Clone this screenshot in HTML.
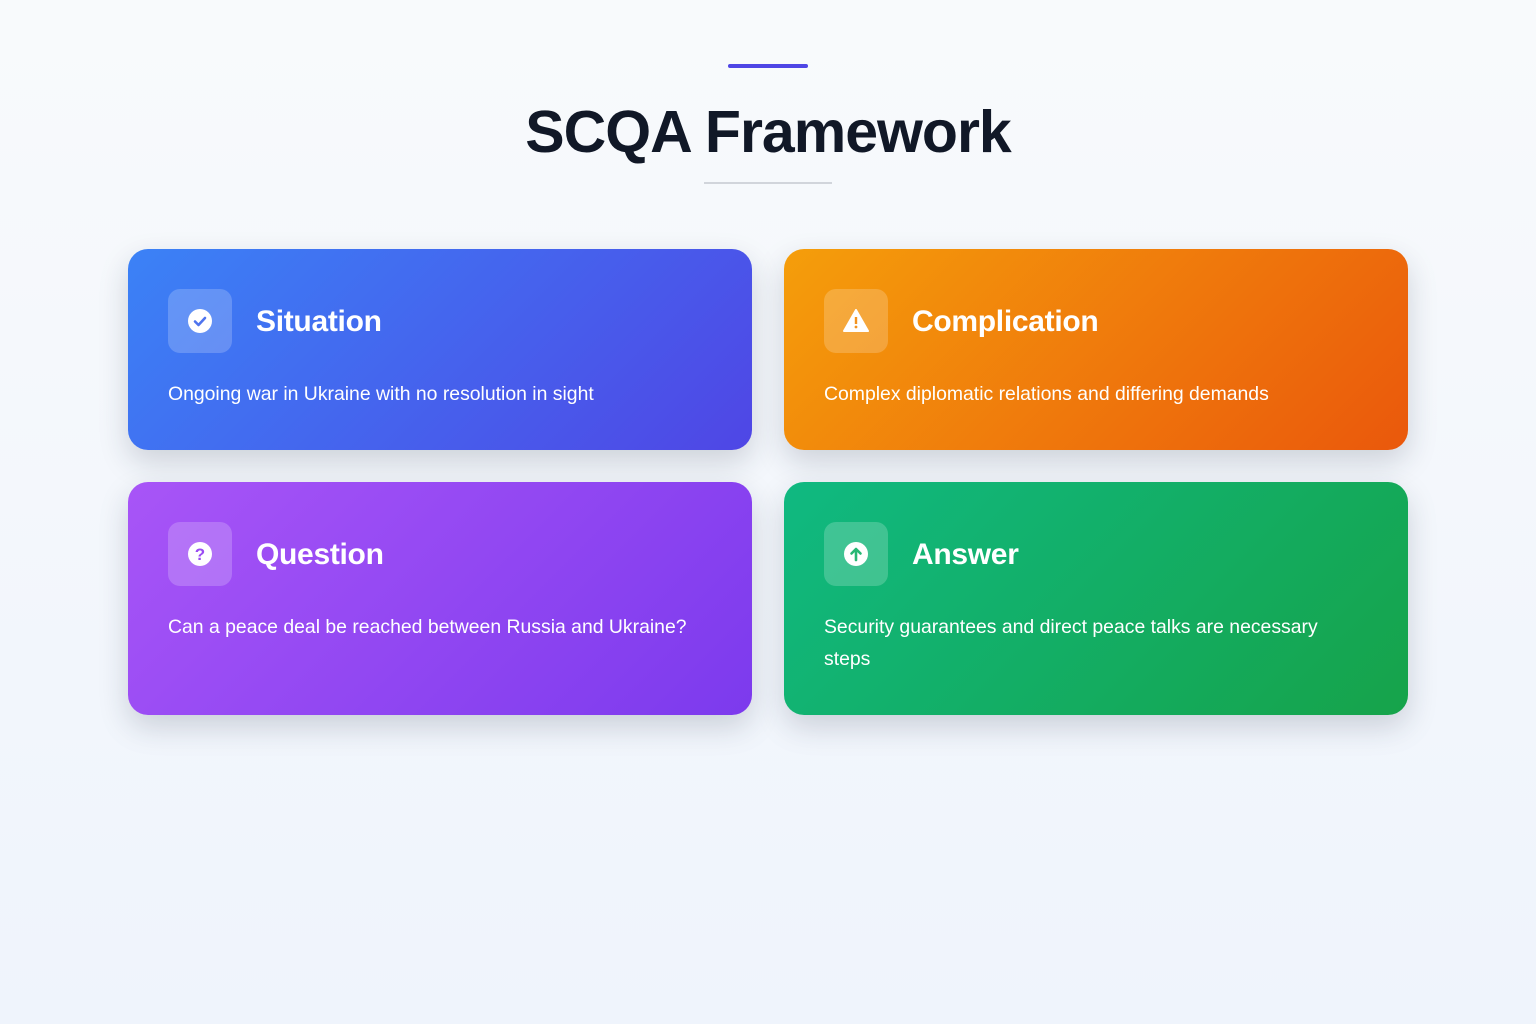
<!DOCTYPE html>
<html><head><meta charset="utf-8"><style>
*{margin:0;padding:0;box-sizing:border-box}
body{width:1536px;height:1024px;background:linear-gradient(180deg,#f8fafc,#eff4fc);font-family:"Liberation Sans",sans-serif;position:relative;overflow:hidden}
.topbar{position:absolute;left:728px;top:64px;width:80px;height:4px;background:#4f46e5;border-radius:2px}
h1{position:absolute;left:0;right:0;top:97px;text-align:center;font-size:59px;font-weight:bold;color:#111827;letter-spacing:-1px;line-height:70px}
.ul{position:absolute;left:704px;top:182px;width:128px;height:2px;background:#d1d5db}
.card{position:absolute;width:624px;border-radius:20px;box-shadow:0 12px 30px rgba(30,41,59,.18);color:#fff}
.ic{position:absolute;left:40px;top:40px;width:64px;height:64px;border-radius:12px;background:rgba(255,255,255,.2);display:flex;align-items:center;justify-content:center}
.h{position:absolute;left:128px;top:53px;font-size:30px;font-weight:bold;line-height:40px;letter-spacing:-0.3px}
.t{position:absolute;left:40px;top:129px;right:40px;font-size:19.4px;line-height:32px}
</style></head><body>
<div class="topbar"></div>
<h1>SCQA Framework</h1>
<div class="ul"></div>

<div class="card" style="left:128px;top:249px;height:201px;background:linear-gradient(135deg,#3b82f6,#4f46e5)">
<div class="ic"><svg width="26" height="26" viewBox="0 0 26 26"><circle cx="13" cy="13" r="12" fill="#fff"/><path d="M8 13.5l3.5 3.5 6.5-7" stroke="#4f74ee" stroke-width="2.6" fill="none" stroke-linecap="round" stroke-linejoin="round"/></svg></div>
<div class="h">Situation</div>
<div class="t">Ongoing war in Ukraine with no resolution in sight</div></div>

<div class="card" style="left:784px;top:249px;height:201px;background:linear-gradient(135deg,#f59e0b,#ea580c)">
<div class="ic"><svg width="26" height="24" viewBox="0 0 26 24"><path d="M13 1L25 22H1z" fill="#fff" stroke="#fff" stroke-width="2" stroke-linejoin="round"/><rect x="11.8" y="8" width="2.4" height="7" fill="#f29320"/><circle cx="13" cy="18" r="1.4" fill="#f29320"/></svg></div>
<div class="h">Complication</div>
<div class="t">Complex diplomatic relations and differing demands</div></div>

<div class="card" style="left:128px;top:482px;height:233px;background:linear-gradient(135deg,#a855f7,#7c3aed)">
<div class="ic"><svg width="26" height="26" viewBox="0 0 26 26"><circle cx="13" cy="13" r="12" fill="#fff"/><text x="13" y="19" text-anchor="middle" font-family="Liberation Sans" font-weight="bold" font-size="17" fill="#9a4cf3">?</text></svg></div>
<div class="h">Question</div>
<div class="t">Can a peace deal be reached between Russia and Ukraine?</div></div>

<div class="card" style="left:784px;top:482px;height:233px;background:linear-gradient(135deg,#10b981,#16a34a)">
<div class="ic"><svg width="26" height="26" viewBox="0 0 26 26"><circle cx="13" cy="13" r="12" fill="#fff"/><path d="M13 19V8M8.5 12.5L13 8l4.5 4.5" stroke="#27b874" stroke-width="2.6" fill="none" stroke-linecap="round" stroke-linejoin="round"/></svg></div>
<div class="h">Answer</div>
<div class="t">Security guarantees and direct peace talks are necessary steps</div></div>
</body></html>
